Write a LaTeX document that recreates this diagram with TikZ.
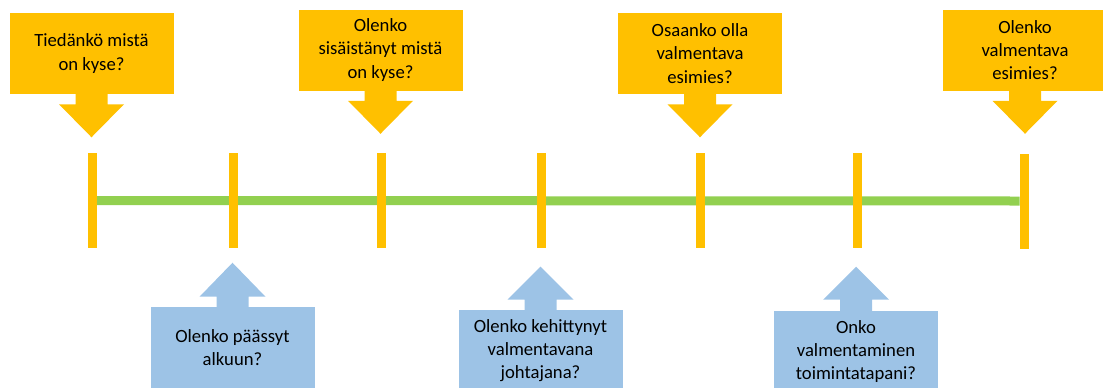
\documentclass[tikz,border=0pt]{standalone}
\usepackage{fontspec}
\setmainfont{Carlito}
\usetikzlibrary{backgrounds}
\definecolor{gold}{RGB}{255,192,0}
\definecolor{skyblue}{RGB}{157,195,230}
\definecolor{grass}{RGB}{146,208,80}

\begin{document}
\begin{tikzpicture}[x=0.75pt,y=0.75pt,yscale=-1,xscale=1,
  question/.style={fill=gold, text=black, minimum width=123pt, minimum height=60.75pt, inner sep=0pt, align=center, font=\fontsize{14}{17.5}\selectfont},
  answer/.style={question, fill=skyblue},
  tick/.style={fill=gold, minimum width=6.75pt, minimum height=71.25pt, inner sep=0pt},
  timeline/.style={draw=grass, line width=6.75pt}]
\useasboundingbox (0,0) rectangle (1103,387);

%Ticks
\node [tick] (t1) at (92,200.5) {};
\node [tick] (t2) at (233,200.5) {};
\node [tick] (t3) at (381.5,200.5) {};
\node [tick] (t4) at (541.5,200.5) {};
\node [tick] (t5) at (700.5,200.5) {};
\node [tick] (t6) at (857,200.5) {};
\node [tick] (t7) at (1024.5,201) {};

%Time line
\begin{scope}[on background layer]
\draw [timeline] (t1) -- (t7);
\end{scope}

% Callouts above
\node [question] (q1) at (91.5,53.5) {Tiedänkö mistä\\on kyse?};
\fill [gold] (q1.south) ++(-16,-1) -- ++(0,11) -- ++(-16.5,0) -- ++(32.5,33) -- ++(32.5,-33) -- ++(-16.5,0) -- ++(0,-11) -- cycle;

\node [question] (q2) at (380.5,50) {Olenko\\sisäistänyt mistä\\on kyse?};
\fill [gold] (q2.south) ++(-16,-1) -- ++(0,11) -- ++(-16.5,0) -- ++(32.5,33) -- ++(32.5,-33) -- ++(-16.5,0) -- ++(0,-11) -- cycle;

\node [question] (q3) at (700,53.5) {Osaanko olla\\valmentava\\esimies?};
\fill [gold] (q3.south) ++(-16,-1) -- ++(0,11) -- ++(-16.5,0) -- ++(32.5,33) -- ++(32.5,-33) -- ++(-16.5,0) -- ++(0,-11) -- cycle;

\node [question] (q4) at (1025,50) {Olenko\\valmentava\\esimies?};
\fill [gold] (q4.south) ++(-16,-1) -- ++(0,11) -- ++(-16.5,0) -- ++(32.5,33) -- ++(32.5,-33) -- ++(-16.5,0) -- ++(0,-11) -- cycle;

% Callouts below
\node [answer] (a1) at (232.5,347.5) {Olenko päässyt\\alkuun?};
\fill [skyblue] (a1.north) ++(-16,1) -- ++(0,-11) -- ++(-17,0) -- ++(33,-34) -- ++(33,34) -- ++(-17,0) -- ++(0,11) -- cycle;

\node [answer] (a2) at (540.5,350.5) {Olenko kehittynyt\\valmentavana\\johtajana?};
\fill [skyblue] (a2.north) ++(-16,1) -- ++(0,-11) -- ++(-17,0) -- ++(33,-33) -- ++(33,33) -- ++(-17,0) -- ++(0,11) -- cycle;

\node [answer] (a3) at (856,351.5) {Onko\\valmentaminen\\toimintatapani?};
\fill [skyblue] (a3.north) ++(-16,1) -- ++(0,-12) -- ++(-17,0) -- ++(33,-33) -- ++(33,33) -- ++(-17,0) -- ++(0,12) -- cycle;

\end{tikzpicture}
\end{document}
